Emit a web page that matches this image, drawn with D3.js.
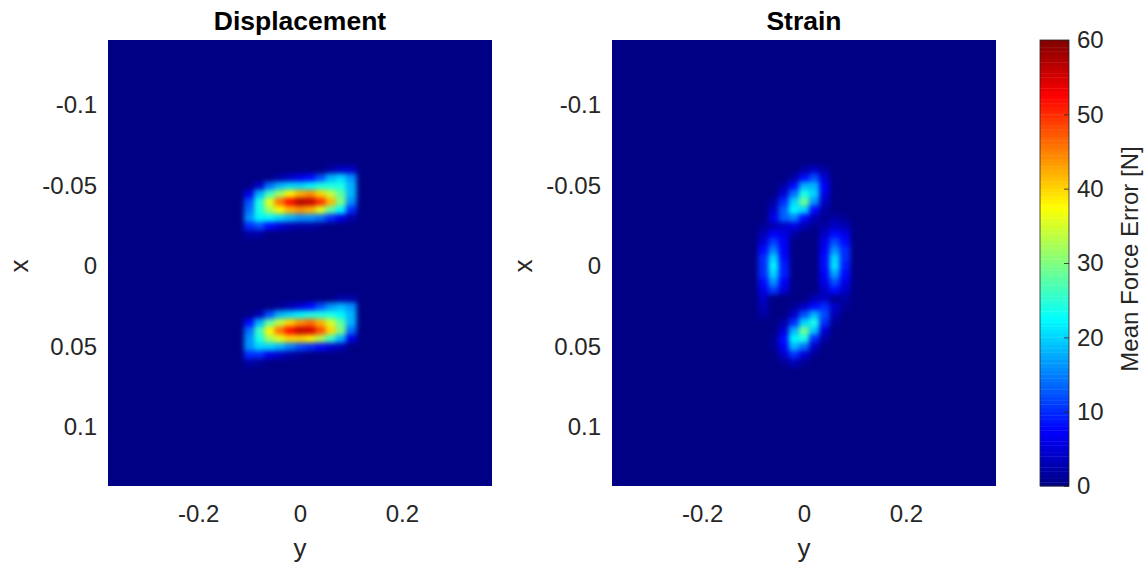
<!DOCTYPE html>
<html>
<head>
<meta charset="utf-8">
<script src="https://cdn.jsdelivr.net/npm/d3@7"></script>
<style>
  html, body { margin: 0; padding: 0; background: #fff; }
  svg { display: block; }
</style>
</head>
<body>
<svg id="chart" width="1148" height="570"></svg>
<script>
// grid spacing of the sampled error maps
const yStep = 0.02;
const xStep = 0.005;

// Displacement, upper lobe: rows x = -0.060 .. -0.020, cols y = -0.10 .. 0.10
const dispUpperOrigin = [-0.10, -0.060];
const dispUpper = [
    [ 0,  0,  0,  0,  0,  0,  0,  0,  2,  4,  4],
    [ 0,  0,  0,  2,  4,  6,  8, 12, 18, 20, 16],
    [ 0,  4, 14, 18, 20, 20, 22, 24, 24, 24, 18],
    [ 6, 18, 26, 32, 38, 42, 44, 40, 34, 28, 18],
    [12, 24, 36, 46, 52, 57, 56, 50, 42, 30, 16],
    [14, 24, 32, 38, 42, 44, 42, 36, 28, 22, 10],
    [16, 22, 22, 20, 18, 16, 16, 14, 10,  6,  2],
    [10, 12,  8,  5,  3,  2,  2,  1,  0,  0,  0],
    [ 2,  2,  0,  0,  0,  0,  0,  0,  0,  0,  0]
];

// Displacement, lower lobe: rows x = 0.020 .. 0.060, cols y = -0.10 .. 0.10
const dispLowerOrigin = [-0.10, 0.020];
const dispLower = [
    [ 0,  0,  0,  0,  0,  0,  0,  0,  0,  2,  2],
    [ 0,  0,  0,  1,  3,  5,  8, 12, 16, 18, 16],
    [ 0,  3, 12, 18, 20, 22, 24, 24, 24, 22, 18],
    [ 8, 18, 28, 34, 40, 44, 46, 42, 35, 28, 18],
    [14, 26, 38, 46, 52, 56, 55, 48, 40, 30, 14],
    [16, 24, 32, 36, 40, 40, 38, 33, 26, 18,  6],
    [16, 20, 20, 18, 15, 12, 10,  8,  5,  3,  0],
    [10, 10,  6,  4,  2,  1,  0,  0,  0,  0,  0],
    [ 2,  1,  0,  0,  0,  0,  0,  0,  0,  0,  0]
];

// Strain, upper lobe: rows x = -0.060 .. -0.020, cols y = -0.06 .. 0.06
const strainUpperOrigin = [-0.06, -0.060];
const strainUpper = [
    [0,  0,  0,  2,  4, 2, 0],
    [0,  0,  2,  8, 12, 5, 0],
    [0,  2,  8, 18, 18, 7, 0],
    [0,  5, 14, 24, 20, 6, 0],
    [2, 10, 20, 29, 16, 4, 0],
    [4, 13, 22, 20,  8, 2, 0],
    [6, 13, 15,  8,  3, 0, 0],
    [5,  9,  6,  3,  1, 0, 0],
    [3,  4,  2,  0,  0, 0, 0]
];

// Strain, left lobe: rows x = -0.025 .. 0.030, cols y = -0.08 .. -0.04
const strainLeftOrigin = [-0.08, -0.025];
const strainLeft = [
    [ 1,  3, 4],
    [ 3,  7, 6],
    [ 5, 11, 7],
    [ 8, 15, 7],
    [10, 20, 8],
    [10, 22, 9],
    [10, 20, 9],
    [ 8, 16, 7],
    [ 6, 11, 5],
    [ 4,  7, 3],
    [ 3,  4, 2],
    [ 2,  2, 1]
];

// Strain, right lobe: rows x = -0.030 .. 0.025, cols y = 0.04 .. 0.08
const strainRightOrigin = [0.04, -0.030];
const strainRight = [
    [1,  2,  1],
    [2,  4,  3],
    [4,  8,  6],
    [6, 12,  8],
    [7, 16, 10],
    [8, 20, 10],
    [8, 21,  9],
    [7, 17,  8],
    [6, 12,  6],
    [4,  8,  4],
    [3,  5,  2],
    [2,  3,  1]
];

// Strain, lower lobe: rows x = 0.020 .. 0.060, cols y = -0.06 .. 0.06
const strainLowerOrigin = [-0.06, 0.020];
const strainLower = [
    [0, 0,  0,  0,  3,  4, 1],
    [0, 0,  1,  4,  8, 10, 4],
    [0, 0,  4, 12, 18, 12, 3],
    [0, 2, 10, 20, 24, 10, 1],
    [0, 5, 18, 29, 19,  5, 0],
    [1, 8, 22, 24, 10,  2, 0],
    [1, 7, 18, 14,  4,  0, 0],
    [0, 4, 10,  5,  1,  0, 0],
    [0, 1,  3,  1,  0,  0, 0]
];

const titles = ['Displacement', 'Strain'];
const yTicks = [-0.2, 0, 0.2];
const xTicks = [-0.1, -0.05, 0, 0.05, 0.1];
const cbTicks = [0, 10, 20, 30, 40, 50, 60];
const yDomain = [-0.377, 0.377];
const xDomain = [-0.1405, 0.1365];
const cbDomain = [0, 60];

// MATLAB jet colormap
const jetStops = [0, 7.5, 22.5, 37.5, 52.5, 60];
const jetColours = ['#000084', '#0000ff', '#00ffff', '#ffff00', '#ff0000', '#800000'];

const FONT = '"Liberation Sans", Arial, Helvetica, sans-serif';
const TEXT = '#262626';

const plotTop = 40;
const plotBottom = 486;
const plotWidth = 384;
const panelLefts = [108, 612];

const colour = d3.scaleLinear().domain(jetStops).range(jetColours).clamp(true);

function cellsOf(values, origin) {
    const [y0, x0] = origin;
    return values.flatMap((row, r) => row.map((v, c) => ({
        y: y0 + c * yStep,
        x: x0 + r * xStep,
        v
    })));
}

const panelCells = [
    [...cellsOf(dispUpper, dispUpperOrigin), ...cellsOf(dispLower, dispLowerOrigin)],
    [...cellsOf(strainUpper, strainUpperOrigin), ...cellsOf(strainLeft, strainLeftOrigin),
     ...cellsOf(strainRight, strainRightOrigin), ...cellsOf(strainLower, strainLowerOrigin)]
];

const svg = d3.select('#chart');
const defs = svg.append('defs');

// soften the coarse grid the way shading interp does
const filter = defs.append('filter')
    .attr('id', 'soften')
    .attr('x', '-0.1').attr('y', '-0.1')
    .attr('width', '1.2').attr('height', '1.2')
    .attr('color-interpolation-filters', 'sRGB');
filter.append('feGaussianBlur').attr('stdDeviation', '2.9 2.5');

const xs = d3.scaleLinear().domain(xDomain).range([plotTop, plotBottom]);
const fmt = d => String(d);

panelLefts.forEach((left, i) => {
    const ys = d3.scaleLinear().domain(yDomain).range([left, left + plotWidth]);

    defs.append('clipPath').attr('id', `clip-${i}`)
        .append('rect')
        .attr('x', left).attr('y', plotTop)
        .attr('width', plotWidth).attr('height', plotBottom - plotTop);

    const heat = svg.append('g')
        .attr('clip-path', `url(#clip-${i})`)
        .append('g')
        .attr('filter', 'url(#soften)');

    heat.append('rect')
        .attr('x', left - 20).attr('y', plotTop - 20)
        .attr('width', plotWidth + 40).attr('height', plotBottom - plotTop + 40)
        .attr('fill', colour(0));

    const cw = ys(yStep) - ys(0);
    const ch = xs(xStep) - xs(0);
    heat.selectAll('rect.cell')
        .data(panelCells[i])
        .join('rect')
        .attr('class', 'cell')
        .attr('x', d => ys(d.y) - cw / 2)
        .attr('y', d => xs(d.x) - ch / 2)
        .attr('width', cw + 0.5)
        .attr('height', ch + 0.5)
        .attr('fill', d => colour(d.v));

    const bottomAxis = svg.append('g')
        .attr('transform', `translate(0,${plotBottom})`)
        .call(d3.axisBottom(ys).tickValues(yTicks).tickSize(0).tickPadding(19).tickFormat(fmt));
    const leftAxis = svg.append('g')
        .attr('transform', `translate(${left},0)`)
        .call(d3.axisLeft(xs).tickValues(xTicks).tickSize(0).tickPadding(11).tickFormat(fmt));

    [bottomAxis, leftAxis].forEach(ax => {
        ax.select('.domain').remove();
        ax.selectAll('text')
            .attr('font-family', FONT)
            .attr('font-size', 24)
            .attr('fill', TEXT);
    });

    svg.append('text')
        .attr('x', left + plotWidth / 2).attr('y', 557)
        .attr('text-anchor', 'middle')
        .attr('font-family', FONT).attr('font-size', 26)
        .attr('fill', TEXT)
        .text('y');

    svg.append('text')
        .attr('transform', `translate(${left - 80},266) rotate(-90)`)
        .attr('text-anchor', 'middle')
        .attr('font-family', FONT).attr('font-size', 26)
        .attr('fill', TEXT)
        .text('x');

    svg.append('text')
        .attr('x', left + plotWidth / 2).attr('y', 29.5)
        .attr('text-anchor', 'middle')
        .attr('font-family', FONT).attr('font-size', 26.5)
        .attr('font-weight', 'bold')
        .attr('fill', '#000')
        .text(titles[i]);
});

// colorbar
const cbLeft = 1040;
const cbWidth = 29;
const cbScale = d3.scaleLinear().domain(cbDomain).range([plotBottom, plotTop]);
const cbSteps = d3.range(cbDomain[0], cbDomain[1], 0.5);

svg.append('g')
    .selectAll('rect')
    .data(cbSteps)
    .join('rect')
    .attr('x', cbLeft)
    .attr('y', d => cbScale(d + 0.5))
    .attr('width', cbWidth)
    .attr('height', d => cbScale(d) - cbScale(d + 0.5) + 0.4)
    .attr('fill', d => colour(d + 0.25));

svg.append('rect')
    .attr('x', cbLeft).attr('y', plotTop)
    .attr('width', cbWidth).attr('height', plotBottom - plotTop)
    .attr('fill', 'none')
    .attr('stroke', TEXT)
    .attr('stroke-width', 0.8);

const cbAxis = svg.append('g')
    .attr('transform', `translate(${cbLeft + cbWidth},0)`)
    .call(d3.axisRight(cbScale).tickValues(cbTicks).tickSizeInner(-5).tickSizeOuter(0).tickPadding(8));
cbAxis.select('.domain').remove();
cbAxis.selectAll('line').attr('stroke', TEXT).attr('stroke-width', 0.8);
cbAxis.selectAll('text')
    .attr('font-family', FONT)
    .attr('font-size', 24)
    .attr('fill', TEXT);

svg.append('text')
    .attr('transform', 'translate(1138,259) rotate(-90)')
    .attr('text-anchor', 'middle')
    .attr('font-family', FONT).attr('font-size', 24)
    .attr('fill', TEXT)
    .text('Mean Force Error [N]');
</script>
</body>
</html>
